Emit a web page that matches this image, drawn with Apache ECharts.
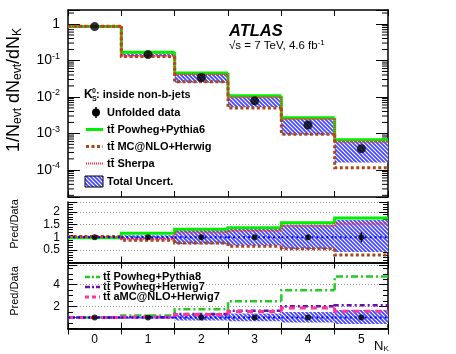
<!DOCTYPE html>
<html>
<head>
<meta charset="utf-8">
<script src="https://cdn.jsdelivr.net/npm/echarts@6/dist/echarts.min.js"></script>
<style>
  html, body { margin: 0; padding: 0; background: #fff; }
  #main { width: 456px; height: 354px; }
</style>
</head>
<body>
<div id="main"></div>
<script>
// bins of N_K
var nk = ['0', '1', '2', '3', '4', '5'];

// main panel: 1/N dN/dN_K
var dataVals = [0.85, 0.145, 0.034, 0.0078, 0.0017, 0.00038];
var pythia6 = [0.85, 0.167, 0.045, 0.0108, 0.0027, 0.00067];
var mcnlo = [0.87, 0.128, 0.026, 0.005, 0.00094, 0.000114];
var sherpa = [0.87, 0.133, 0.041, 0.0098, 0.00247, 0.000585];

// total uncertainty (relative to data)
var uncLo = [0.96, 0.92, 0.72, 0.67, 0.54, 0.42];
var uncHi = [1.04, 1.08, 1.29, 1.37, 1.50, 1.70];

// ratio panel 1
var unity = [1, 1, 1, 1, 1, 1];
var ratioErr = [0.01, 0.02, 0.03, 0.05, 0.08, 0.2];
var rPythia6 = [0.98, 1.16, 1.32, 1.38, 1.58, 1.77];
var rMcnlo = [1.03, 0.88, 0.77, 0.64, 0.55, 0.30];
var rSherpa = [1.02, 0.92, 1.2, 1.26, 1.45, 1.54];

// ratio panel 2
var rPythia8 = [1.0, 1.18, 1.75, 2.48, 3.5, 4.75];
var rHerwig7 = [1.0, 1.02, 1.32, 1.62, 2.03, 2.12];
var rAmcnlo = [1.0, 1.05, 1.28, 1.55, 1.87, 1.57];

// log-axis minor tick positions (2..9 x 10^n)
var logMinor = [];
for (var e = -5; e <= 0; e++) {
  for (var m = 2; m <= 9; m++) {
    var t = m * Math.pow(10, e);
    if (t > 1.8e-5 && t < 2.42) logMinor.push(t);
  }
}

var FONT = 'Liberation Sans';

// hatched fill for the uncertainty band
function makeHatch() {
  var c = document.createElement('canvas');
  c.width = 4; c.height = 4;
  var g = c.getContext('2d');
  g.fillStyle = '#4646ff';
  g.fillRect(0, 0, 4, 4);
  g.strokeStyle = '#ffffff';
  g.lineWidth = 1.1;
  g.beginPath();
  g.moveTo(0, 0); g.lineTo(4, 4);
  g.moveTo(-2, 2); g.lineTo(2, 6);
  g.moveTo(2, -2); g.lineTo(6, 2);
  g.stroke();
  return c;
}
var hatch = { image: makeHatch(), repeat: 'repeat' };

function binWidth(api, v) {
  return api.coord([1, v])[0] - api.coord([0, v])[0];
}

function stepSeries(vals, xi, yi, color, width, dash) {
  return {
    type: 'custom', xAxisIndex: xi, yAxisIndex: yi,
    data: vals.map(function (v, i) { return [i, v]; }),
    renderItem: function (params, api) {
      var i = api.value(0), v = api.value(1);
      var c = api.coord([i, v]);
      var w = binWidth(api, v);
      var pts = [];
      if (i > 0) {
        var p = api.coord([i - 1, vals[i - 1]]);
        pts.push([c[0] - w / 2, p[1]]);
      }
      pts.push([c[0] - w / 2, c[1]]);
      pts.push([c[0] + w / 2, c[1]]);
      return {
        type: 'polyline', shape: { points: pts },
        style: { stroke: color, lineWidth: width, lineDash: dash || null, fill: null }
      };
    },
    silent: true
  };
}

function bandSeries(lo, hi, xi, yi) {
  return {
    type: 'custom', xAxisIndex: xi, yAxisIndex: yi,
    data: lo.map(function (v, i) { return [i, v, hi[i]]; }),
    renderItem: function (params, api) {
      var i = api.value(0);
      var a = api.coord([i, api.value(2)]);
      var b = api.coord([i, api.value(1)]);
      var w = binWidth(api, api.value(1));
      return {
        type: 'rect',
        shape: { x: a[0] - w / 2, y: a[1], width: w, height: b[1] - a[1] },
        style: { fill: hatch }
      };
    },
    silent: true
  };
}

function pointSeries(vals, xi, yi, size) {
  return {
    type: 'scatter', xAxisIndex: xi, yAxisIndex: yi,
    data: vals.map(function (v, i) { return [i, v]; }),
    symbol: 'circle', symbolSize: size,
    itemStyle: { color: '#000' }, silent: true
  };
}

function errSeries(vals, err, xi, yi) {
  return {
    type: 'custom', xAxisIndex: xi, yAxisIndex: yi,
    data: vals.map(function (v, i) { return [i, v - err[i], v + err[i]]; }),
    renderItem: function (params, api) {
      var a = api.coord([api.value(0), api.value(1)]);
      var b = api.coord([api.value(0), api.value(2)]);
      return { type: 'line', shape: { x1: a[0], y1: a[1], x2: b[0], y2: b[1] },
        style: { stroke: '#000', lineWidth: 1.5 } };
    },
    silent: true
  };
}

// minor ticks of the log axis, on both sides of the main frame
function logMinorSeries() {
  return {
    type: 'custom', xAxisIndex: 0, yAxisIndex: 0,
    data: logMinor.map(function (v) { return [0, v]; }),
    renderItem: function (params, api) {
      var c = api.coord([0, api.value(1)]);
      var w = binWidth(api, api.value(1));
      var xl = c[0] - w / 2, xr = xl + 6 * w;
      return { type: 'group', children: [
        { type: 'line', shape: { x1: xl, y1: c[1], x2: xl + 6, y2: c[1] }, style: { stroke: '#000', lineWidth: 1 } },
        { type: 'line', shape: { x1: xr - 6, y1: c[1], x2: xr, y2: c[1] }, style: { stroke: '#000', lineWidth: 1 } }
      ] };
    },
    silent: true
  };
}

function catAxis(gi, pos, labels) {
  return {
    type: 'category', gridIndex: gi, position: pos, data: nk,
    axisLine: { show: true, lineStyle: { color: '#000', width: 1.5 } },
    axisTick: { show: true, inside: true, length: 6, lineStyle: { color: '#000' } },
    axisLabel: { show: labels, color: '#000', fontFamily: FONT, fontSize: 12, margin: 5 },
    splitLine: { show: false }
  };
}

function linAxis(gi, pos, max, interval, minorSplit, labels) {
  return {
    type: 'value', gridIndex: gi, position: pos, min: 0, max: max, interval: interval,
    axisLine: { show: true, lineStyle: { color: '#000', width: 1.5 } },
    axisTick: { show: true, inside: true, length: 9, lineStyle: { color: '#000' } },
    minorTick: { show: true, splitNumber: minorSplit, length: 5, lineStyle: { color: '#000' } },
    axisLabel: {
      show: labels, color: '#000', fontFamily: FONT, fontSize: 12, margin: 8,
      formatter: function (v) {
        if (v <= 0 || v >= max - 1e-9) return '';
        return String(v);
      }
    },
    splitLine: { show: labels, lineStyle: { color: '#999', type: [1, 2], width: 1 } }
  };
}

function logAxis(pos, labels) {
  return {
    type: 'log', logBase: 10, gridIndex: 0, position: pos, min: 1.8e-5, max: 2.42,
    axisLine: { show: true, lineStyle: { color: '#000', width: 1.5 } },
    axisTick: { show: true, inside: true, length: 12, lineStyle: { color: '#000' } },
    axisLabel: {
      show: labels, color: '#000', fontFamily: FONT, fontSize: 14, margin: 8,
      formatter: function (v) {
        var l = Math.log(v) / Math.LN10;
        var e = Math.round(l);
        if (Math.abs(l - e) > 1e-6) return '';
        if (e === 0) return '1';
        return '10{s|' + e + '}';
      },
      rich: { s: { fontSize: 9, fontFamily: FONT, verticalAlign: 'top', padding: [0, 0, 8, 0] } }
    },
    splitLine: { show: false }
  };
}

var chart = echarts.init(document.getElementById('main'), null, { renderer: 'canvas' });

var GR = 68;
var option = {
  animation: false,
  backgroundColor: '#fff',
  grid: [
    { left: 68, right: GR, top: 10, height: 187 },
    { left: 68, right: GR, top: 202, height: 60.5 },
    { left: 68, right: GR, top: 265, height: 63.5 }
  ],
  xAxis: [
    catAxis(0, 'bottom', false), catAxis(0, 'top', false),
    catAxis(1, 'bottom', false), catAxis(1, 'top', false),
    catAxis(2, 'bottom', true), catAxis(2, 'top', false)
  ],
  yAxis: [
    logAxis('left', true), logAxis('right', false),
    linAxis(1, 'left', 2.4, 0.5, 5, true), linAxis(1, 'right', 2.4, 0.5, 5, false),
    linAxis(2, 'left', 5.8, 2, 4, true), linAxis(2, 'right', 5.8, 2, 4, false)
  ],
  series: [
    // main
    logMinorSeries(),
    bandSeries(dataVals.map(function (d, i) { return d * uncLo[i]; }),
               dataVals.map(function (d, i) { return d * uncHi[i]; }), 0, 0),
    stepSeries(pythia6, 0, 0, '#00ee00', 3),
    stepSeries(mcnlo, 0, 0, '#a8481a', 3, [3, 2.5]),
    stepSeries(sherpa, 0, 0, '#ff2a2a', 2, [1, 1]),
    pointSeries(dataVals, 0, 0, 9),
    // ratio 1
    bandSeries(uncLo, uncHi, 2, 2),
    stepSeries(rPythia6, 2, 2, '#00ee00', 3),
    stepSeries(rMcnlo, 2, 2, '#a8481a', 3, [3, 2.5]),
    stepSeries(rSherpa, 2, 2, '#ff2a2a', 2, [1, 1]),
    stepSeries(unity, 2, 2, '#0000ff', 2, [2, 3]),
    errSeries(unity, ratioErr, 2, 2),
    pointSeries(unity, 2, 2, 6),
    // ratio 2
    bandSeries(uncLo, uncHi, 4, 4),
    stepSeries(rPythia8, 4, 4, '#22cc22', 2.5, [7, 3, 2, 3]),
    stepSeries(rHerwig7, 4, 4, '#6a0dad', 2.5, [5, 3, 2, 3]),
    stepSeries(rAmcnlo, 4, 4, '#ff3399', 3, [6, 5]),
    stepSeries(unity, 4, 4, '#0000ff', 2, [2, 3]),
    pointSeries(unity, 4, 4, 6)
  ],
  graphic: [
    // y titles
    { type: 'text', x: 14, y: 90, rotation: Math.PI / 2,
      style: { text: '1/N{s|evt} dN{s|evt}/dN{s|K}', font: '18px "Liberation Sans"', fill: '#000',
        align: 'center', verticalAlign: 'middle',
        rich: { s: { fontSize: 12, fontFamily: FONT, verticalAlign: 'bottom', padding: [8, 0, 0, 0] } } } },
    { type: 'text', x: 15, y: 224, rotation: Math.PI / 2,
      style: { text: 'Pred/Data', font: '11px "Liberation Sans"', fill: '#000', align: 'center', verticalAlign: 'middle' } },
    { type: 'text', x: 15, y: 291, rotation: Math.PI / 2,
      style: { text: 'Pred/Data', font: '11px "Liberation Sans"', fill: '#000', align: 'center', verticalAlign: 'middle' } },
    // N_K
    { type: 'text', x: 374, y: 346,
      style: { text: 'N{s|K}', font: '13px "Liberation Sans"', fill: '#000', verticalAlign: 'middle',
        rich: { s: { fontSize: 8, fontFamily: FONT, verticalAlign: 'bottom', padding: [6, 0, 0, 0] } } } },
    // ATLAS label
    { type: 'text', x: 229, y: 31,
      style: { text: 'ATLAS', font: 'italic bold 16.5px "Liberation Sans"', fill: '#000', verticalAlign: 'middle' } },
    { type: 'text', x: 229, y: 46,
      style: { text: '\u221As = 7 TeV, 4.6 fb{s|-1}', font: '11.5px "Liberation Sans"', fill: '#000', verticalAlign: 'middle',
        rich: { s: { fontSize: 8, fontFamily: FONT, verticalAlign: 'top', padding: [0, 0, 6, 0] } } } },
    // main legend
    { type: 'text', x: 84, y: 95,
      style: { text: 'K', font: 'bold 12px "Liberation Sans"', fill: '#000', verticalAlign: 'middle' } },
    { type: 'text', x: 92, y: 91,
      style: { text: '0', font: 'bold 7px "Liberation Sans"', fill: '#000', verticalAlign: 'middle' } },
    { type: 'text', x: 92, y: 99,
      style: { text: 'S', font: 'bold 7px "Liberation Sans"', fill: '#000', verticalAlign: 'middle' } },
    { type: 'text', x: 96, y: 95,
      style: { text: ': inside non-b-jets', font: 'bold 11px "Liberation Sans"', fill: '#000', verticalAlign: 'middle' } },
    { type: 'circle', shape: { cx: 96, cy: 112.5, r: 4 }, style: { fill: '#000' } },
    { type: 'line', shape: { x1: 96, y1: 107, x2: 96, y2: 118 }, style: { stroke: '#000', lineWidth: 1.5 } },
    { type: 'text', x: 107, y: 112.5,
      style: { text: 'Unfolded data', font: 'bold 11px "Liberation Sans"', fill: '#000', verticalAlign: 'middle' } },
    { type: 'line', shape: { x1: 86, y1: 129.5, x2: 103, y2: 129.5 }, style: { stroke: '#00ee00', lineWidth: 3 } },
    { type: 'text', x: 107, y: 129.5,
      style: { text: 'tt\u0304 Powheg+Pythia6', font: 'bold 11px "Liberation Sans"', fill: '#000', verticalAlign: 'middle' } },
    { type: 'line', shape: { x1: 86, y1: 146.5, x2: 103, y2: 146.5 }, style: { stroke: '#a8481a', lineWidth: 3, lineDash: [3, 2.5] } },
    { type: 'text', x: 107, y: 146.5,
      style: { text: 'tt\u0304 MC@NLO+Herwig', font: 'bold 11px "Liberation Sans"', fill: '#000', verticalAlign: 'middle' } },
    { type: 'line', shape: { x1: 86, y1: 163.5, x2: 103, y2: 163.5 }, style: { stroke: '#ff2a2a', lineWidth: 2, lineDash: [1, 1] } },
    { type: 'text', x: 107, y: 163.5,
      style: { text: 'tt\u0304 Sherpa', font: 'bold 11px "Liberation Sans"', fill: '#000', verticalAlign: 'middle' } },
    { type: 'rect', shape: { x: 85, y: 176, width: 18, height: 11 }, style: { fill: hatch, stroke: '#000', lineWidth: 1 } },
    { type: 'text', x: 107, y: 181.5,
      style: { text: 'Total Uncert.', font: 'bold 11px "Liberation Sans"', fill: '#000', verticalAlign: 'middle' } },
    // ratio 2 legend
    { type: 'line', shape: { x1: 85, y1: 277, x2: 100, y2: 277 }, style: { stroke: '#22cc22', lineWidth: 2.5, lineDash: [5, 2, 2, 2] } },
    { type: 'text', x: 103, y: 277,
      style: { text: 'tt\u0304 Powheg+Pythia8', font: 'bold 11px "Liberation Sans"', fill: '#000', verticalAlign: 'middle' } },
    { type: 'line', shape: { x1: 85, y1: 287, x2: 100, y2: 287 }, style: { stroke: '#6a0dad', lineWidth: 2.5, lineDash: [5, 2, 2, 2] } },
    { type: 'text', x: 103, y: 287,
      style: { text: 'tt\u0304 Powheg+Herwig7', font: 'bold 11px "Liberation Sans"', fill: '#000', verticalAlign: 'middle' } },
    { type: 'line', shape: { x1: 85, y1: 297, x2: 100, y2: 297 }, style: { stroke: '#ff3399', lineWidth: 3, lineDash: [4, 3] } },
    { type: 'text', x: 103, y: 297,
      style: { text: 'tt\u0304 aMC@NLO+Herwig7', font: 'bold 11px "Liberation Sans"', fill: '#000', verticalAlign: 'middle' } }
  ]
};

chart.setOption(option);
</script>
</body>
</html>
